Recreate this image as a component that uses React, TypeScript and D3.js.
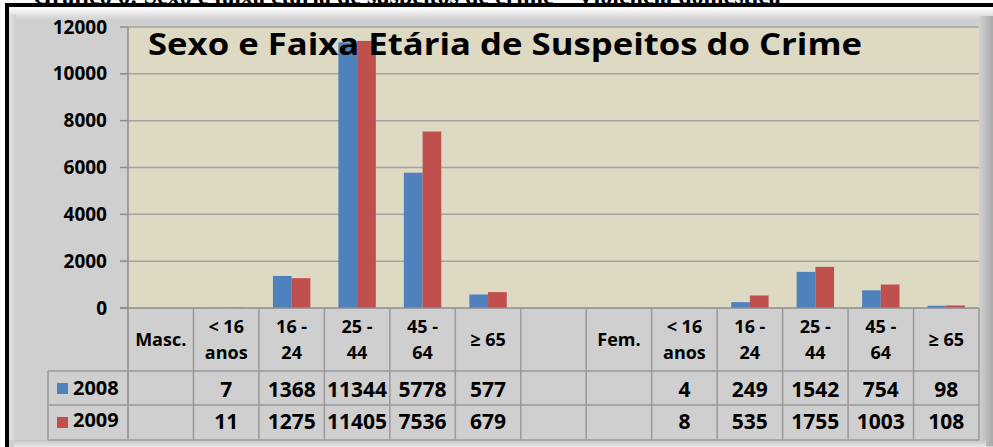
import { useEffect, useRef } from 'react';
import * as d3 from 'd3';

// Categories (line breaks mark the two-line table headers)
const categories = ['Masc.', '< 16\nanos', '16 -\n24', '25 -\n44', '45 -\n64', '≥ 65', '', 'Fem.', '< 16\nanos', '16 -\n24', '25 -\n44', '45 -\n64', '≥ 65'];
const seriesNames = ['2008', '2009'];
const values2008 = [null, 7, 1368, 11344, 5778, 577, null, null, 4, 249, 1542, 754, 98];
const values2009 = [null, 11, 1275, 11405, 7536, 679, null, null, 8, 535, 1755, 1003, 108];
const yTicks = [0, 2000, 4000, 6000, 8000, 10000, 12000];
const seriesColors = ['#4f81bd', '#c0504d'];
const titleText = 'Sexo e Faixa Etária de Suspeitos do Crime';
const captionText = 'Gráfico 6: Sexo e faixa etária de suspeitos de crime – Violência doméstica';

const WIDTH = 993;
const HEIGHT = 447;
const FONT = "'Open Sans', Lato, sans-serif";

export default function App() {
    const svgRef = useRef<SVGSVGElement | null>(null);

    useEffect(() => {
        document.body.style.margin = '0';
        if (!svgRef.current) return;

        const svg = d3.select(svgRef.current);
        svg.selectAll('*').remove();

        const plot = { left: 128, right: 979, top: 27, bottom: 308 };
        const table = { legendLeft: 48, header: 371, row1: 405, row2: 440 };
        const series = [values2008, values2009];

        // Scales
        const x = d3.scaleBand<number>()
            .domain(d3.range(categories.length))
            .range([plot.left, plot.right])
            .padding(0);

        const xInner = d3.scaleBand<number>()
            .domain(d3.range(seriesNames.length))
            .range([0, x.bandwidth()])
            .paddingInner(0)
            .paddingOuter(0.75);

        const y = d3.scaleLinear()
            .domain([0, 12000])
            .range([plot.bottom, plot.top]);

        const defs = svg.append('defs');

        const makeGradient = (id: string, x2: string, y2: string, stops: [string, string][]) => {
            const g = defs.append('linearGradient')
                .attr('id', id)
                .attr('x1', '0%').attr('y1', '0%')
                .attr('x2', x2).attr('y2', y2);
            stops.forEach(([o, c]) => g.append('stop').attr('offset', o).attr('stop-color', c));
        };
        makeGradient('bevel-top', '0%', '100%', [['0%', '#ffffff'], ['100%', '#cfcfcf']]);
        makeGradient('bevel-left', '100%', '0%', [['0%', '#e4e4e4'], ['100%', '#cfcfcf']]);
        makeGradient('bevel-right', '100%', '0%', [['0%', '#cfcfcf'], ['100%', '#a9a9a9']]);
        makeGradient('bevel-bottom', '0%', '100%', [['0%', '#c4c4c4'], ['100%', '#e8e8e8']]);

        // Page background + clipped caption line above the chart
        svg.append('rect').attr('width', WIDTH).attr('height', HEIGHT).attr('fill', '#ffffff');
        svg.append('text')
            .attr('x', 33)
            .attr('y', 4)
            .attr('font-family', "'Liberation Serif', serif")
            .attr('font-weight', 700)
            .attr('font-size', 24)
            .attr('fill', '#000')
            .text(captionText);

        // Black frame and grey chart area with bevel
        svg.append('rect').attr('x', 5).attr('y', 3).attr('width', WIDTH).attr('height', HEIGHT).attr('fill', '#000');
        svg.append('rect').attr('x', 9).attr('y', 7).attr('width', WIDTH).attr('height', HEIGHT).attr('fill', '#cfcfcf');
        svg.append('rect').attr('x', 9).attr('y', 7).attr('width', WIDTH).attr('height', 13).attr('fill', 'url(#bevel-top)');
        svg.append('rect').attr('x', 9).attr('y', 14).attr('width', 7).attr('height', 426).attr('fill', 'url(#bevel-left)');
        svg.append('rect').attr('x', 980).attr('y', 16).attr('width', 13).attr('height', 430).attr('fill', 'url(#bevel-right)');
        svg.append('rect').attr('x', 14).attr('y', 440).attr('width', 972).attr('height', 7).attr('fill', 'url(#bevel-bottom)');

        // Plot area
        svg.append('rect')
            .attr('x', plot.left)
            .attr('y', plot.top)
            .attr('width', plot.right - plot.left)
            .attr('height', plot.bottom - plot.top)
            .attr('fill', '#ddd9c3');

        // Gridlines
        svg.append('g')
            .selectAll('line')
            .data(yTicks.filter(t => t > 0))
            .join('line')
            .attr('x1', plot.left)
            .attr('x2', plot.right)
            .attr('y1', d => y(d))
            .attr('y2', d => y(d))
            .attr('stroke', '#a3a3a3')
            .attr('stroke-width', 1.5);

        // Bars
        series.forEach((vals, si) => {
            svg.append('g')
                .selectAll('rect')
                .data(vals.map((v, i) => ({ v, i })).filter(d => d.v != null))
                .join('rect')
                .attr('x', d => (x(d.i) as number) + (xInner(si) as number))
                .attr('width', xInner.bandwidth())
                .attr('y', d => y(d.v as number))
                .attr('height', d => y(0) - y(d.v as number))
                .attr('fill', seriesColors[si]);
        });

        // Title (sits over the bars, as in the original)
        svg.append('text')
            .attr('x', 148)
            .attr('y', 55)
            .attr('font-family', FONT)
            .attr('font-weight', 700)
            .attr('font-size', 31)
            .attr('textLength', 714)
            .attr('lengthAdjust', 'spacingAndGlyphs')
            .attr('fill', '#000')
            .text(titleText);

        // Y axis tick marks and labels
        const axis = svg.append('g');
        axis.selectAll('line')
            .data(yTicks)
            .join('line')
            .attr('x1', 120)
            .attr('x2', plot.left)
            .attr('y1', d => y(d))
            .attr('y2', d => y(d))
            .attr('stroke', '#8c8c8c')
            .attr('stroke-width', 1.5);
        axis.selectAll('text')
            .data(yTicks)
            .join('text')
            .attr('x', 107)
            .attr('y', d => y(d) + 6.5)
            .attr('text-anchor', 'end')
            .attr('font-family', FONT)
            .attr('font-weight', 700)
            .attr('font-size', 19)
            .attr('fill', '#000')
            .text(d => String(d));

        // Data table grid
        const gridColor = '#9a9a9a';
        const grid = svg.append('g').attr('stroke', gridColor).attr('stroke-width', 1.5);
        grid.append('line').attr('x1', 120).attr('x2', plot.right).attr('y1', plot.bottom).attr('y2', plot.bottom).attr('stroke', '#8c8c8c');
        grid.append('line').attr('x1', plot.left).attr('x2', plot.left).attr('y1', plot.top).attr('y2', table.row2).attr('stroke', '#8c8c8c');
        [table.header, table.row1, table.row2].forEach(yy => {
            grid.append('line').attr('x1', table.legendLeft).attr('x2', plot.right).attr('y1', yy).attr('y2', yy);
        });
        grid.append('line').attr('x1', table.legendLeft).attr('x2', table.legendLeft).attr('y1', table.header).attr('y2', table.row2);
        d3.range(1, categories.length + 1).forEach(i => {
            const xx = i === categories.length ? plot.right : (x(i) as number);
            grid.append('line').attr('x1', xx).attr('x2', xx).attr('y1', plot.bottom).attr('y2', table.row2);
        });

        // Header labels
        const headers = svg.append('g')
            .attr('font-family', FONT)
            .attr('font-weight', 700)
            .attr('font-size', 18)
            .attr('fill', '#000')
            .attr('text-anchor', 'middle');
        categories.forEach((cat, i) => {
            if (!cat) return;
            const lines = cat.split('\n');
            const cx = (x(i) as number) + x.bandwidth() / 2;
            const baselines = lines.length === 2 ? [333, 359] : [346];
            lines.forEach((ln, li) => {
                headers.append('text').attr('x', cx).attr('y', baselines[li]).text(ln);
            });
        });

        // Value rows + legend keys
        const rowBaselines = [397, 429];
        const keyTops = [383, 417];
        series.forEach((vals, si) => {
            const row = svg.append('g')
                .attr('font-family', FONT)
                .attr('font-weight', 700)
                .attr('fill', '#000');
            row.append('rect')
                .attr('x', 57)
                .attr('y', keyTops[si])
                .attr('width', 11)
                .attr('height', 11)
                .attr('fill', seriesColors[si]);
            row.append('text')
                .attr('x', 73)
                .attr('y', rowBaselines[si] - 2)
                .attr('font-size', 20)
                .text(seriesNames[si]);
            row.selectAll('text.val')
                .data(vals.map((v, i) => ({ v, i })).filter(d => d.v != null))
                .join('text')
                .attr('class', 'val')
                .attr('x', d => (x(d.i) as number) + x.bandwidth() / 2)
                .attr('y', rowBaselines[si])
                .attr('text-anchor', 'middle')
                .attr('font-size', 21)
                .text(d => String(d.v));
        });
    }, []);

    return (
        <svg ref={svgRef} width={WIDTH} height={HEIGHT} style={{ display: 'block' }} />
    );
}
